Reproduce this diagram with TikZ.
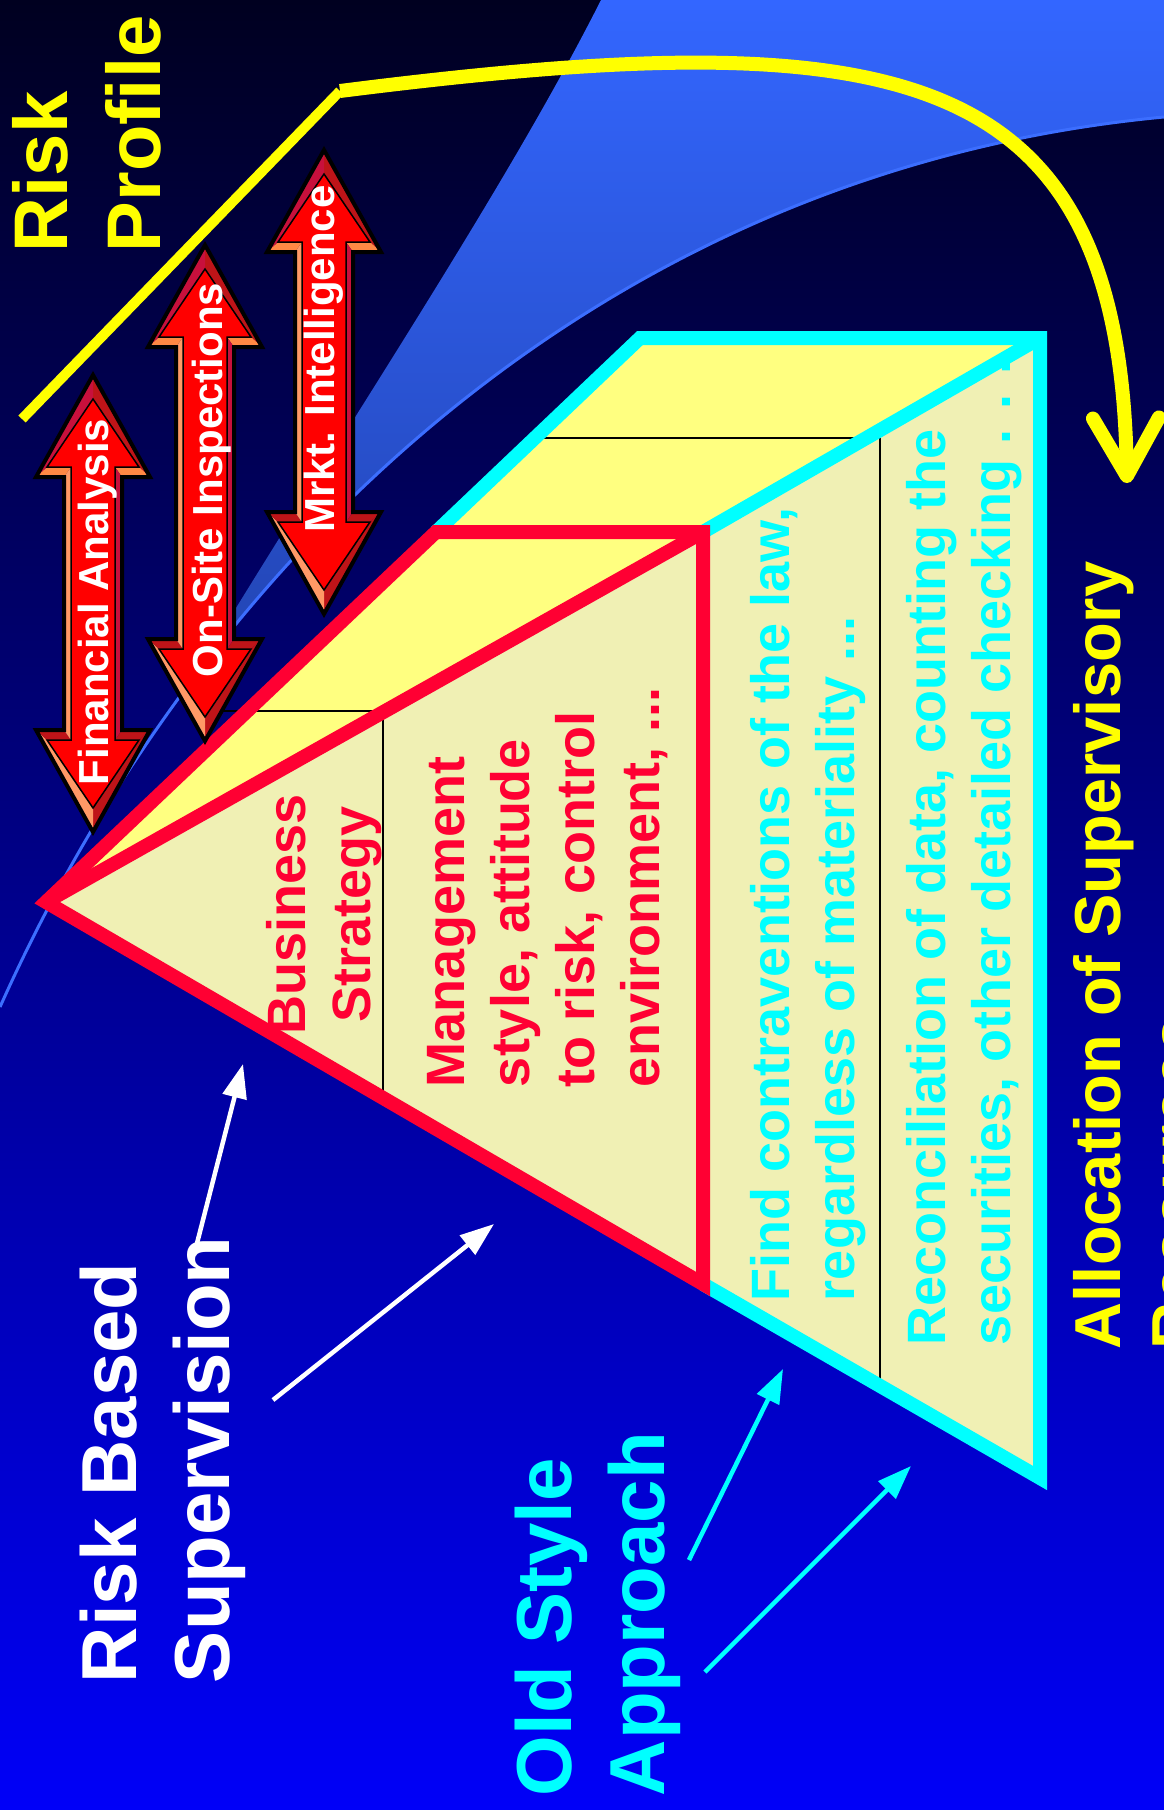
\documentclass[tikz,border=0pt]{standalone}
\usepackage{fontspec}
\setmainfont{Liberation Sans}
\usetikzlibrary{arrows.meta}
\definecolor{bgtop}{RGB}{0,0,32}
\definecolor{bgmid}{RGB}{0,0,176}
\definecolor{bgbot}{RGB}{0,0,248}
\definecolor{wedgetop}{RGB}{51,102,255}
\definecolor{wedgebot}{RGB}{26,52,140}
\definecolor{wedgeline}{RGB}{60,110,255}
\definecolor{pyrred}{RGB}{255,0,51}
\definecolor{pyrcyan}{RGB}{0,255,255}
\definecolor{pyryellow}{RGB}{255,255,0}
\definecolor{facetop}{RGB}{255,255,128}
\definecolor{facefront}{RGB}{240,240,180}
\definecolor{arrred}{RGB}{255,0,0}
\definecolor{bevcrim}{RGB}{200,16,60}
\definecolor{bevdark}{RGB}{190,20,24}
\definecolor{bevorange}{RGB}{255,136,68}
\definecolor{bevpeach}{RGB}{255,153,102}
\begin{document}
\begin{tikzpicture}[x=1pt, y=-1pt,
  bigtxt/.style={rotate=90, inner sep=0pt, outer sep=0pt, align=left, anchor=north west, font=\fontsize{78}{93}\selectfont\bfseries},
  facetxt/.style={rotate=90, inner sep=0pt, outer sep=0pt, align=left, anchor=north west, font=\fontsize{54}{65}\selectfont\bfseries},
  arrtxt/.style={rotate=90, inner sep=0pt, outer sep=0pt, anchor=base, text=white, font=\fontsize{42}{50}\selectfont\bfseries},
  rededge/.style={draw=pyrred, line width=14pt, line join=miter},
  cyanedge/.style={draw=pyrcyan, line width=14pt, line join=miter},
  divline/.style={draw=black, line width=2pt},
  ptr/.style={line width=4.5pt, -{Triangle[length=34pt,width=24pt]}}]
  \useasboundingbox (0,0) rectangle (1164,1810);
  \clip (0,0) rectangle (1164,1810);
  \shade[top color=bgtop, middle color=bgmid, bottom color=bgbot] (0,0) rectangle (1164,1810);
  \begin{scope}
    \clip (601,0) .. controls (500,200) and (330,450) .. (180,700) -- (1164,700) -- (1164,0) -- cycle;
    \shade[top color=wedgetop, bottom color=wedgebot] (0,0) -- (1164,0) -- (1164,117) .. controls (600,170) and (200,560) .. (0,1007) -- cycle;
  \end{scope}
  \draw[wedgeline, line width=3pt] (1164,117) .. controls (600,170) and (200,560) .. (0,1007);

  \coordinate (apex) at (46,902);
  \coordinate (tl) at (640,338);
  \coordinate (tr) at (1040,338);
  \coordinate (br) at (1040,1478);
  \coordinate (rl) at (436,532);
  \coordinate (rt) at (703,532);
  \coordinate (rb) at (703,1284);
  \fill[facefront] (apex) -- (tr) -- (br) -- cycle;
  \filldraw[fill=facetop, draw=black, line width=1.5pt] (apex) -- (tl) -- (tr) -- cycle;
  \draw[divline] (222,711) -- (383,711);
  \draw[divline] (383,711) -- (383,1097);
  \draw[divline] (535,438) -- (864,438);
  \draw[divline] (880,429) -- (880,1385);
  \draw[cyanedge] (rl) -- (tl) -- (tr) -- (br) -- (rb);
  \draw[cyanedge] (rt) -- (tr);
  \draw[rededge] (apex) -- (rl) -- (rt) -- (rb) -- cycle;
  \draw[rededge] (apex) -- (rt);

  \foreach \nm/\c/\t/\b/\ty/\bl/\lbl in {fa/93/375/832/602/108/Financial Analysis,
      os/205/245/741/480/222/On-Site Inspections,
      mi/324/150/614/359/334/Mrkt. Intelligence}{
    \coordinate (o1) at (\c,\t);
    \coordinate (o2) at ({\c+57},{\t+102});
    \coordinate (o3) at ({\c+29},{\t+102});
    \coordinate (o4) at ({\c+29},{\b-102});
    \coordinate (o5) at ({\c+57},{\b-102});
    \coordinate (o6) at (\c,\b);
    \coordinate (o7) at ({\c-57},{\b-102});
    \coordinate (o8) at ({\c-29},{\b-102});
    \coordinate (o9) at ({\c-29},{\t+102});
    \coordinate (o10) at ({\c-57},{\t+102});
    \coordinate (i1) at (\c,{\t+24});
    \coordinate (i2) at ({\c+46},{\t+92});
    \coordinate (i3) at ({\c+22},{\t+92});
    \coordinate (i4) at ({\c+22},{\b-92});
    \coordinate (i5) at ({\c+46},{\b-92});
    \coordinate (i6) at (\c,{\b-24});
    \coordinate (i7) at ({\c-46},{\b-92});
    \coordinate (i8) at ({\c-22},{\b-92});
    \coordinate (i9) at ({\c-22},{\t+92});
    \coordinate (i10) at ({\c-46},{\t+92});
    \fill[bevdark] (o1) -- (o2) -- (i2) -- (i1) -- cycle;
    \fill[bevorange] (o2) -- (o3) -- (i3) -- (i2) -- cycle;
    \fill[bevcrim] (o3) -- (o4) -- (i4) -- (i3) -- cycle;
    \fill[bevdark] (o4) -- (o5) -- (i5) -- (i4) -- cycle;
    \fill[bevdark] (o5) -- (o6) -- (i6) -- (i5) -- cycle;
    \fill[bevpeach] (o6) -- (o7) -- (i7) -- (i6) -- cycle;
    \fill[bevdark] (o7) -- (o8) -- (i8) -- (i7) -- cycle;
    \fill[bevpeach] (o8) -- (o9) -- (i9) -- (i8) -- cycle;
    \fill[bevorange] (o9) -- (o10) -- (i10) -- (i9) -- cycle;
    \fill[bevcrim] (o10) -- (o1) -- (i1) -- (i10) -- cycle;
    \filldraw[fill=arrred, draw=black, line width=1.5pt] (i1) -- (i2) -- (i3) -- (i4) -- (i5) -- (i6) -- (i7) -- (i8) -- (i9) -- (i10) -- cycle;
    \draw[black, line width=4pt, line join=miter] (o1) -- (o2) -- (o3) -- (o4) -- (o5) -- (o6) -- (o7) -- (o8) -- (o9) -- (o10) -- cycle;
    \node[arrtxt] (\nm) at (\bl,\ty) {\lbl};
  }

  \coordinate (rp0) at (22,419);
  \coordinate (rp1) at (340,91);
  \coordinate (rp2) at (1127,483);
  \draw[pyryellow, line width=10pt] (rp0) -- (rp1);
  \draw[pyryellow, line width=14pt, -{Straight Barb[length=58pt,width=66pt,round]}] (rp1) .. controls (900,20) and (1120,60) .. (rp2);

  \node[bigtxt, text=pyryellow, font=\fontsize{76}{93}\selectfont\bfseries] (riskprofile) at (12,252) {Risk\\Profile};
  \node[facetxt, text=pyrred, align=center, anchor=north] (business) at (266,914) {Business\\Strategy};
  \node[facetxt, text=pyrred] (mgmt) at (427,1087) {Management\\style, attitude\\to risk, control\\environment, ...};
  \node[facetxt, text=pyrcyan] (find) at (750,1301) {Find contraventions of the law,\\regardless of materiality ...};
  \node[facetxt, text=pyrcyan] (recon) at (906,1345) {Reconciliation of data, counting the\\securities, other detailed checking . . .};
  \node[bigtxt, text=pyryellow, font=\fontsize{65}{77}\selectfont\bfseries] (alloc) at (1073,1349) {Allocation of Supervisory\\Resources};
  \node[bigtxt, text=white] (rbs) at (80,1683) {Risk Based\\Supervision};
  \node[bigtxt, text=pyrcyan] (osa) at (515,1796) {Old Style\\Approach};

  \coordinate (w1s) at (194,1255);
  \coordinate (w1e) at (243,1064);
  \coordinate (w2s) at (273,1400);
  \coordinate (w2e) at (494,1224);
  \coordinate (c1s) at (689,1560);
  \coordinate (c1e) at (783,1369);
  \coordinate (c2s) at (705,1672);
  \coordinate (c2e) at (911,1466);
  \draw[ptr, white] (w1s) -- (w1e);
  \draw[ptr, white] (w2s) -- (w2e);
  \draw[ptr, pyrcyan] (c1s) -- (c1e);
  \draw[ptr, pyrcyan] (c2s) -- (c2e);
\end{tikzpicture}
\end{document}
